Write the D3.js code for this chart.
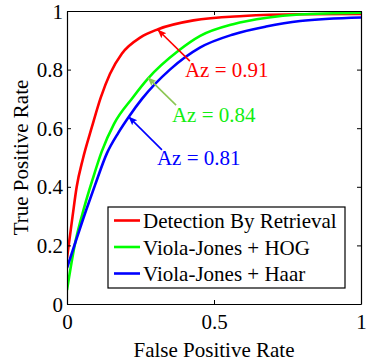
<!DOCTYPE html>
<html>
<head>
<meta charset="utf-8">
<script src="https://cdn.jsdelivr.net/npm/d3@7/dist/d3.min.js"></script>
<style>
  body { margin: 0; background: #fff; }
  svg { display: block; }
</style>
</head>
<body>
<svg id="chart" width="370" height="363"></svg>
<script>
// ROC curves
var seriesNames = ['Detection By Retrieval', 'Viola-Jones + HOG', 'Viola-Jones + Haar'];
var seriesColors = ['#ff0000', '#00ff00', '#0000ff'];

var retrievalFpr = [0, 0.019, 0.033, 0.054, 0.085, 0.115, 0.146, 0.187, 0.25, 0.31, 0.43, 0.6, 0.8, 1];
var retrievalTpr = [0.157, 0.30, 0.40, 0.495, 0.605, 0.705, 0.785, 0.855, 0.91, 0.938, 0.968, 0.983, 0.989, 0.99];

var hogFpr = [0, 0.026, 0.06, 0.087, 0.118, 0.16, 0.224, 0.276, 0.38, 0.453, 0.565, 0.68, 0.79, 1];
var hogTpr = [0.048, 0.20, 0.335, 0.425, 0.52, 0.615, 0.705, 0.77, 0.865, 0.915, 0.955, 0.977, 0.988, 0.994];

var haarFpr = [0, 0.03, 0.065, 0.095, 0.136, 0.175, 0.211, 0.255, 0.35, 0.452, 0.565, 0.677, 0.793, 1];
var haarTpr = [0.123, 0.215, 0.32, 0.405, 0.515, 0.585, 0.64, 0.70, 0.80, 0.875, 0.92, 0.947, 0.966, 0.978];

var xTicks = [0, 0.5, 1];
var yTicks = [0, 0.2, 0.4, 0.6, 0.8, 1];

// Az annotations: label text, arrow head point (on the curve), arrow tail, label anchor
var azLabels = ['Az = 0.91', 'Az = 0.84', 'Az = 0.81'];
var azTextColors = ['#ff0000', '#11ee11', '#0000ff'];
var azArrowColors = ['#ff0000', '#8cc653', '#0000ff'];
var azHead = [[0.31, 0.935], [0.276, 0.772], [0.211, 0.638]];
var azTail = [[0.418, 0.829], [0.371, 0.679], [0.323, 0.526]];
var azText = [[0.401, 0.775], [0.357, 0.621], [0.306, 0.474]];

var serif = 'Liberation Serif, serif';

var margin = {top: 11, right: 9, bottom: 59, left: 67};
var svg = d3.select('#chart'),
    width = +svg.attr('width') - margin.left - margin.right,
    height = +svg.attr('height') - margin.top - margin.bottom;

var x = d3.scaleLinear().domain([0, 1]).range([0, width]);
var y = d3.scaleLinear().domain([0, 1]).range([height, 0]);

var g = svg.append('g').attr('transform', 'translate(' + margin.left + ',' + margin.top + ')');

var series = [
  {fpr: retrievalFpr, tpr: retrievalTpr},
  {fpr: hogFpr, tpr: hogTpr},
  {fpr: haarFpr, tpr: haarTpr}
];

var line = d3.line()
  .x(function (d) { return x(d[0]); })
  .y(function (d) { return y(d[1]); })
  .curve(d3.curveMonotoneX);

g.append('defs').append('clipPath').attr('id', 'plot-clip')
  .append('rect').attr('x', 0).attr('y', -2).attr('width', width).attr('height', height + 2);

g.append('g').attr('clip-path', 'url(#plot-clip)')
  .selectAll('path')
  .data(series)
  .enter()
  .append('path')
  .attr('fill', 'none')
  .attr('stroke', function (d, i) { return seriesColors[i]; })
  .attr('stroke-width', 2.6)
  .attr('stroke-linejoin', 'round')
  .attr('d', function (d) { return line(d3.zip(d.fpr, d.tpr)); });

// axes, ticks pointing inward on all four sides
var xAxis = g.append('g').attr('transform', 'translate(0,' + height + ')')
  .call(d3.axisBottom(x).tickValues(xTicks).tickFormat(d3.format('')).tickSizeInner(-4).tickSizeOuter(0));
xAxis.selectAll('text').attr('y', 25).attr('dy', null);

var yAxis = g.append('g')
  .call(d3.axisLeft(y).tickValues(yTicks).tickFormat(d3.format('')).tickSizeInner(-4).tickSizeOuter(0).tickPadding(4));
yAxis.selectAll('text').attr('dy', '0.34em');

g.append('g')
  .call(d3.axisTop(x).tickValues(xTicks).tickFormat('').tickSizeInner(-4).tickSizeOuter(0));
g.append('g').attr('transform', 'translate(' + width + ',0)')
  .call(d3.axisRight(y).tickValues(yTicks).tickFormat('').tickSizeInner(-4).tickSizeOuter(0));

g.selectAll('.domain').attr('stroke', '#000').attr('stroke-width', 1.2);
g.selectAll('.tick line').attr('stroke', '#000');
g.selectAll('.tick text')
  .attr('font-family', serif)
  .attr('font-size', 21)
  .attr('fill', '#000');

// axis titles
svg.append('text')
  .attr('x', margin.left + width / 2)
  .attr('y', 357)
  .attr('text-anchor', 'middle')
  .attr('font-family', serif)
  .attr('font-size', 21)
  .text('False Positive Rate');

svg.append('text')
  .attr('transform', 'translate(28,' + (margin.top + height / 2) + ') rotate(-90)')
  .attr('text-anchor', 'middle')
  .attr('font-family', serif)
  .attr('font-size', 21)
  .text('True Positive Rate');

// arrowheads
var defs = svg.append('defs');
azArrowColors.forEach(function (c, i) {
  defs.append('marker')
    .attr('id', 'head' + i)
    .attr('markerUnits', 'userSpaceOnUse')
    .attr('viewBox', '0 -5 10 10')
    .attr('refX', 9)
    .attr('refY', 0)
    .attr('markerWidth', 9)
    .attr('markerHeight', 9)
    .attr('orient', 'auto')
    .append('path')
    .attr('d', 'M0,-4L10,0L0,4L2,0Z')
    .attr('fill', c);
});

var ann = g.append('g');
ann.selectAll('line')
  .data(azLabels)
  .enter()
  .append('line')
  .attr('x1', function (d, i) { return x(azTail[i][0]); })
  .attr('y1', function (d, i) { return y(azTail[i][1]); })
  .attr('x2', function (d, i) { return x(azHead[i][0]); })
  .attr('y2', function (d, i) { return y(azHead[i][1]); })
  .attr('stroke', function (d, i) { return azArrowColors[i]; })
  .attr('stroke-width', 1.6)
  .attr('marker-end', function (d, i) { return 'url(#head' + i + ')'; });

ann.selectAll('text')
  .data(azLabels)
  .enter()
  .append('text')
  .attr('x', function (d, i) { return x(azText[i][0]); })
  .attr('y', function (d, i) { return y(azText[i][1]); })
  .attr('font-family', serif)
  .attr('font-size', 21)
  .attr('fill', function (d, i) { return azTextColors[i]; })
  .text(function (d) { return d; });

// legend
var legend = svg.append('g').attr('transform', 'translate(108,207)');
legend.append('rect')
  .attr('width', 237).attr('height', 81)
  .attr('fill', '#fff').attr('stroke', '#000').attr('stroke-width', 1.2);

var rows = legend.selectAll('g.row')
  .data(seriesNames)
  .enter()
  .append('g')
  .attr('class', 'row')
  .attr('transform', function (d, i) { return 'translate(0,' + (13.5 + i * 26.5) + ')'; });

rows.append('line')
  .attr('x1', 6).attr('x2', 32)
  .attr('stroke', function (d, i) { return seriesColors[i]; })
  .attr('stroke-width', 2.6);

rows.append('text')
  .attr('x', 35)
  .attr('dy', '0.36em')
  .attr('font-family', serif)
  .attr('font-size', 21)
  .text(function (d) { return d; });
</script>
</body>
</html>
